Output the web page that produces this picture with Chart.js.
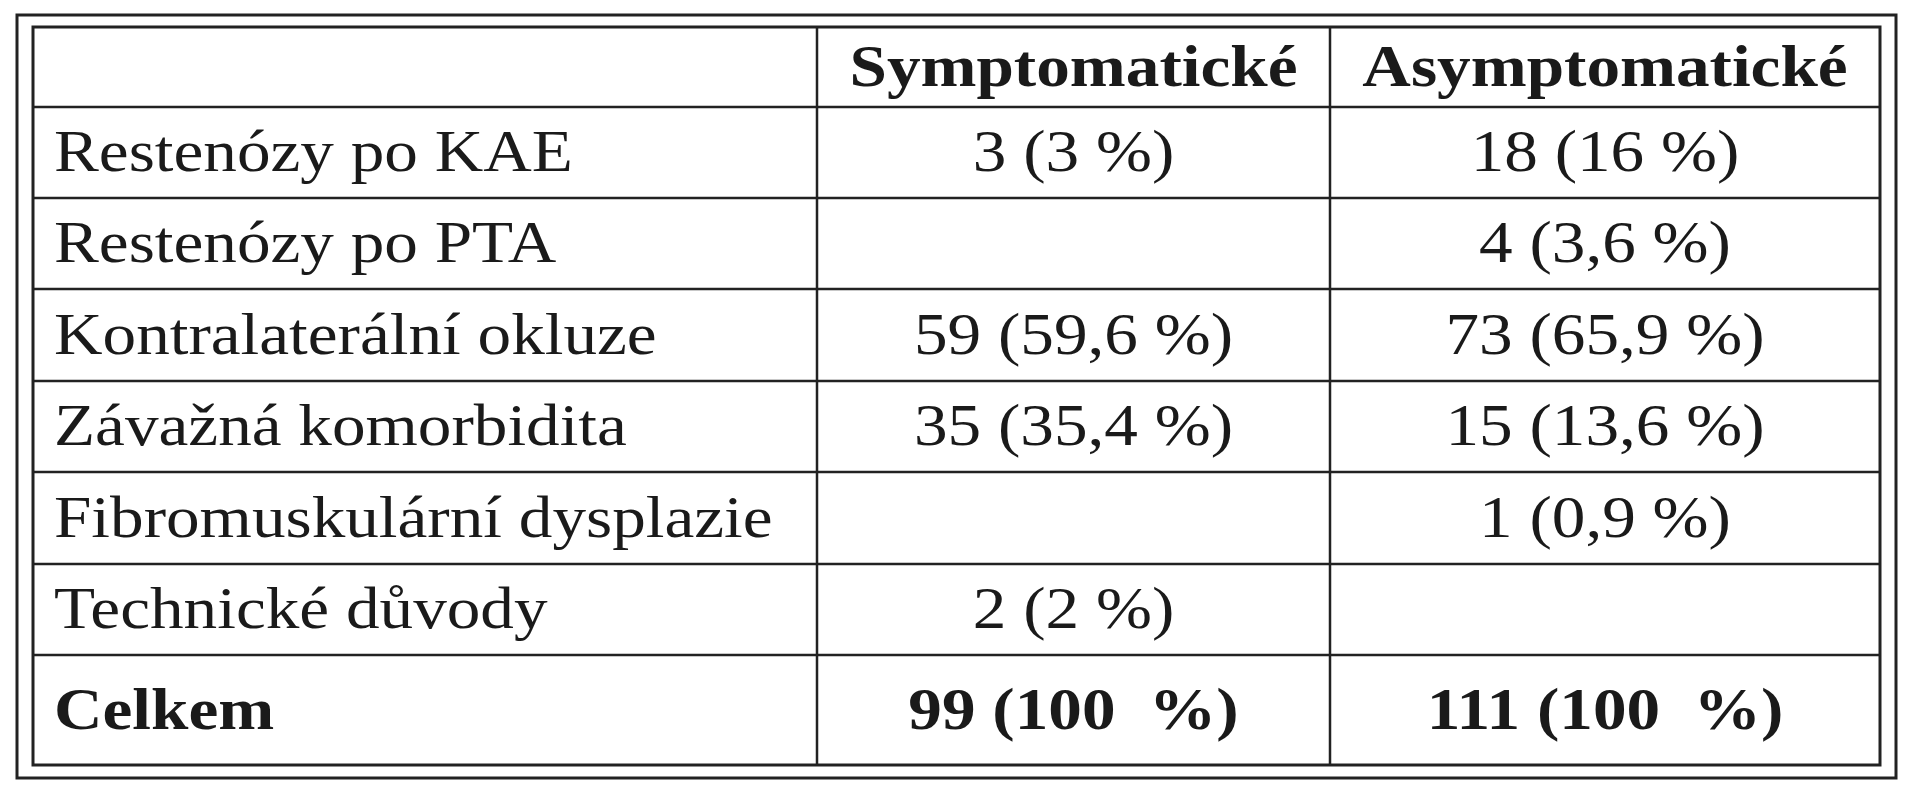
<!DOCTYPE html>
<html>
<head>
<meta charset="utf-8">
<script src="https://cdn.jsdelivr.net/npm/chart.js@4"></script>
<style>
  html, body { margin: 0; padding: 0; background: #fff; }
  #wrap { width: 1913px; height: 800px; }
</style>
</head>
<body>
<div id="wrap"><canvas id="myChart"></canvas></div>
<script>
const columns = ['Symptomatické', 'Asymptomatické'];
const rowLabels = [
    'Restenózy po KAE',
    'Restenózy po PTA',
    'Kontralaterální okluze',
    'Závažná komorbidita',
    'Fibromuskulární dysplazie',
    'Technické důvody',
    'Celkem'
];
const symptomatic = ['3 (3 %)', '', '59 (59,6 %)', '35 (35,4 %)', '', '2 (2 %)', '99 (100  %)'];
const asymptomatic = ['18 (16 %)', '4 (3,6 %)', '73 (65,9 %)', '15 (13,6 %)', '1 (0,9 %)', '', '111 (100  %)'];

// layout in page pixels
const colEdges = [33, 817, 1330, 1880];
const rowEdges = [27, 107, 198, 289, 381, 472, 564, 655, 765];

const tablePlugin = {
    id: 'table',
    afterDraw(chart) {
        const ctx = chart.ctx;
        const x = chart.scales.x, y = chart.scales.y;
        const px = v => x.getPixelForValue(v);
        const py = v => y.getPixelForValue(v);
        ctx.save();
        ctx.strokeStyle = '#222';
        ctx.lineWidth = 3;
        // outer frame
        ctx.strokeRect(px(17), py(15), px(1896) - px(17), py(778) - py(15));
        ctx.strokeRect(px(33), py(27), px(1880) - px(33), py(765) - py(27));
        // grid
        ctx.lineWidth = 2.5;
        rowEdges.slice(1, -1).forEach(r => {
            ctx.beginPath(); ctx.moveTo(px(33), py(r)); ctx.lineTo(px(1880), py(r)); ctx.stroke();
        });
        colEdges.slice(1, -1).forEach(c => {
            ctx.beginPath(); ctx.moveTo(px(c), py(27)); ctx.lineTo(px(c), py(765)); ctx.stroke();
        });
        ctx.fillStyle = '#1a1a1a';
        ctx.textBaseline = 'middle';
        const mid = i => py((rowEdges[i] + rowEdges[i + 1]) / 2 + 3);
        const c1 = px((colEdges[1] + colEdges[2]) / 2);
        const c2 = px((colEdges[2] + colEdges[3]) / 2);
        // text is a bit wider in the reference
        const text = (s, tx, ty) => {
            ctx.save();
            ctx.translate(tx, ty);
            ctx.scale(1.12, 1);
            ctx.fillText(s, 0, 0);
            ctx.restore();
        };
        ctx.font = 'bold 60px "Liberation Serif"';
        ctx.textAlign = 'center';
        text(columns[0], c1, mid(0));
        text(columns[1], c2, mid(0));
        rowLabels.forEach((lab, i) => {
            const bold = i === rowLabels.length - 1;
            ctx.font = (bold ? 'bold ' : '') + '60px "Liberation Serif"';
            ctx.textAlign = 'left';
            text(lab, px(54), mid(i + 1));
            ctx.textAlign = 'center';
            text(symptomatic[i], c1, mid(i + 1));
            text(asymptomatic[i], c2, mid(i + 1));
        });
        ctx.restore();
    }
};

new Chart(document.getElementById('myChart').getContext('2d'), {
    type: 'scatter',
    data: { datasets: [{ data: [] }] },
    options: {
        responsive: true,
        maintainAspectRatio: false,
        animation: false,
        layout: { padding: 0 },
        plugins: { legend: { display: false }, tooltip: { enabled: false } },
        scales: {
            x: { type: 'linear', min: 0, max: 1913, display: false },
            y: { type: 'linear', min: 0, max: 800, reverse: true, display: false }
        }
    },
    plugins: [tablePlugin]
});
</script>
</body>
</html>
